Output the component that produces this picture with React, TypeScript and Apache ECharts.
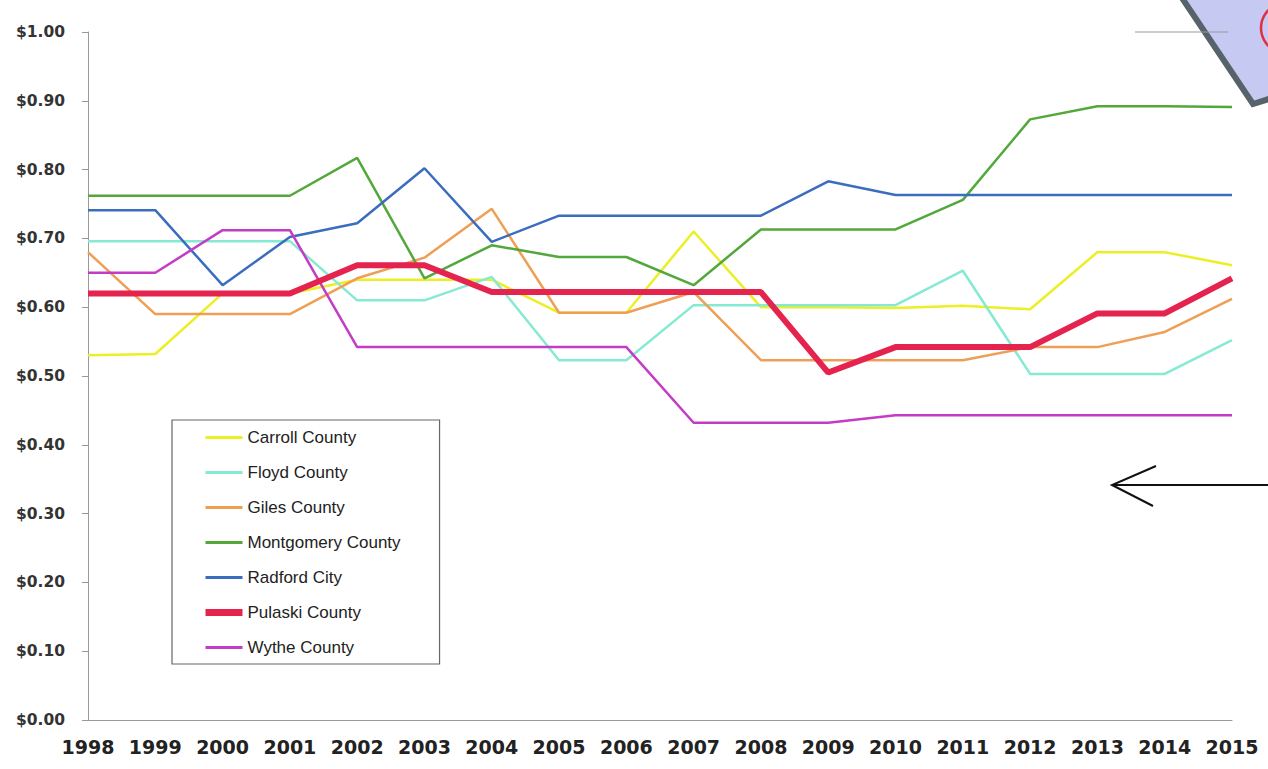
import React, { useEffect, useRef } from "react";
import * as echarts from "echarts";

const years = ["1998","1999","2000","2001","2002","2003","2004","2005","2006","2007","2008","2009","2010","2011","2012","2013","2014","2015"];
const carroll = [0.53,0.532,0.62,0.62,0.64,0.64,0.64,0.592,0.592,0.71,0.60,0.60,0.599,0.602,0.597,0.68,0.68,0.661];
const floyd = [0.696,0.696,0.696,0.696,0.61,0.61,0.644,0.523,0.523,0.603,0.603,0.603,0.603,0.653,0.503,0.503,0.503,0.552];
const giles = [0.68,0.59,0.59,0.59,0.642,0.672,0.743,0.592,0.592,0.622,0.523,0.523,0.523,0.523,0.542,0.542,0.564,0.612];
const montgomery = [0.762,0.762,0.762,0.762,0.817,0.642,0.69,0.673,0.673,0.632,0.713,0.713,0.713,0.756,0.873,0.892,0.892,0.891];
const radford = [0.741,0.741,0.632,0.702,0.722,0.802,0.695,0.733,0.733,0.733,0.733,0.783,0.763,0.763,0.763,0.763,0.763,0.763];
const pulaski = [0.62,0.62,0.62,0.62,0.661,0.661,0.622,0.622,0.622,0.622,0.622,0.505,0.542,0.542,0.542,0.591,0.591,0.642];
const wythe = [0.65,0.65,0.712,0.712,0.542,0.542,0.542,0.542,0.542,0.432,0.432,0.432,0.443,0.443,0.443,0.443,0.443,0.443];

const seriesDefs = [
  { name: "Carroll County", data: carroll, color: "#ecef24", width: 2.5 },
  { name: "Floyd County", data: floyd, color: "#86ead2", width: 2.5 },
  { name: "Giles County", data: giles, color: "#ef9f55", width: 2.5 },
  { name: "Montgomery County", data: montgomery, color: "#52a83a", width: 2.5 },
  { name: "Radford City", data: radford, color: "#3b6dbf", width: 2.5 },
  { name: "Pulaski County", data: pulaski, color: "#e5234f", width: 6 },
  { name: "Wythe County", data: wythe, color: "#c43cc6", width: 2.5 },
];

export default function App() {
  const ref = useRef<HTMLDivElement>(null);
  useEffect(() => {
    if (!ref.current) return;
    const chart = echarts.init(ref.current, undefined, { renderer: "svg" });
    chart.setOption({
      animation: false,
      backgroundColor: "#ffffff",
      grid: { left: 88, right: 36, top: 32, bottom: 49 },
      legend: {
        orient: "vertical",
        left: 172,
        top: 420,
        padding: [9, 39, 8, 30],
        itemWidth: 37,
        itemHeight: 17,
        itemGap: 18,
        borderColor: "#666",
        borderWidth: 1.2,
        itemStyle: { opacity: 0 },
        textStyle: { fontFamily: "Liberation Sans, Arial, sans-serif", fontSize: 17, color: "#222" },
        data: seriesDefs.map((s) => ({
          name: s.name,
          lineStyle: { width: s.width > 3 ? 7 : 3, color: s.color },
        })),
      },
      xAxis: {
        type: "category",
        data: years,
        boundaryGap: false,
        axisLine: { lineStyle: { color: "#999", width: 1 } },
        axisTick: { show: false },
        axisLabel: {
          fontFamily: "DejaVu Sans, sans-serif",
          fontSize: 19,
          fontWeight: "bold",
          color: "#222",
          margin: 17,
          interval: 0,
        },
        splitLine: { show: false },
      },
      yAxis: {
        type: "value",
        min: 0,
        max: 1,
        interval: 0.1,
        axisLine: { show: true, lineStyle: { color: "#999", width: 1 } },
        axisTick: { show: true, length: 6, lineStyle: { color: "#999" } },
        axisLabel: {
          fontFamily: "DejaVu Sans, sans-serif",
          fontSize: 15.5,
          fontWeight: "bold",
          color: "#333",
          margin: 23,
          formatter: (v: number) => "$" + v.toFixed(2),
        },
        splitLine: { show: false },
      },
      series: seriesDefs.map((s) => ({
        name: s.name,
        type: "line",
        data: s.data,
        symbol: "none",
        showSymbol: false,
        color: s.color,
        lineStyle: { color: s.color, width: s.width },
        z: s.name === "Pulaski County" ? 5 : 2,
      })),
      graphic: [
        {
          type: "polygon",
          shape: { points: [[1180, -5], [1253, 104], [1272, 98], [1272, -5]] },
          style: { fill: "#c6c9f2", stroke: "#56636b", lineWidth: 6 },
        },
        {
          type: "arc",
          shape: { cx: 1286, cy: 28, r: 25, startAngle: Math.PI * 0.6, endAngle: Math.PI * 1.4 },
          style: { stroke: "#e03040", lineWidth: 2.5, fill: "none" },
        },
        {
          type: "line",
          shape: { x1: 1135, y1: 32, x2: 1228, y2: 32 },
          style: { stroke: "#999", lineWidth: 1 },
        },
        {
          type: "polyline",
          shape: { points: [[1268, 485], [1112, 485]] },
          style: { stroke: "#111", lineWidth: 2, fill: "none" },
        },
        {
          type: "polyline",
          shape: { points: [[1156, 466], [1112, 485], [1153, 506]] },
          style: { stroke: "#111", lineWidth: 2, fill: "none" },
        },
      ],
    });
    return () => chart.dispose();
  }, []);
  return <div ref={ref} style={{ width: 1268, height: 769, position: "absolute", left: 0, top: 0 }} />;
}
